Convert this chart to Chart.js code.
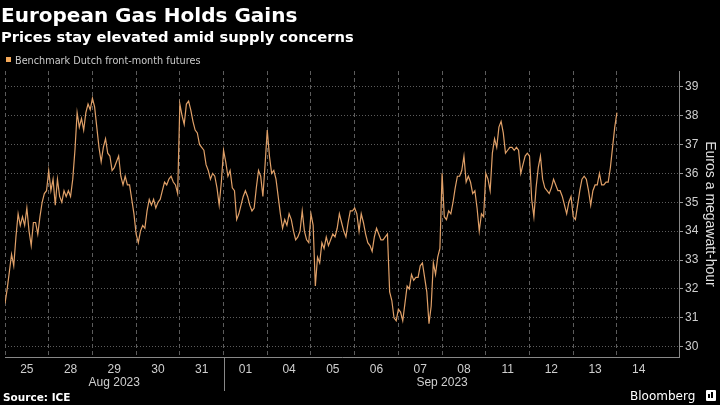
<!DOCTYPE html>
<html>
<head>
<meta charset="utf-8">
<script src="https://cdn.jsdelivr.net/npm/chart.js@4.4.0/dist/chart.umd.min.js"></script>
<style>
  html, body { margin: 0; padding: 0; background: #000; }
  #wrap { position: relative; width: 720px; height: 405px; overflow: hidden; background: #000; font-family: 'DejaVu Sans', 'Liberation Sans', Arial, sans-serif; }
  #chart { position: absolute; left: 0; top: 0; }
  .txt { position: absolute; white-space: nowrap; line-height: 1; }
  #title { left: 1px; top: 5px; font-size: 20px; font-weight: bold; color: #fff; }
  #subtitle { left: 1px; top: 30px; font-size: 14.7px; font-weight: bold; color: #fff; }
  #legend { left: 15px; top: 56px; font-size: 9.7px; color: #ccc; }
  #legendBox { position: absolute; left: 6px; top: 57px; width: 5px; height: 5px; background: #f4a95a; }
  #source { left: 3px; top: 392px; font-size: 10.5px; font-weight: bold; color: #fff; }
  #brand { left: 630px; top: 390px; font-size: 12px; color: #fff; }
  #logo { position: absolute; left: 706px; top: 390px; width: 10px; height: 11px; background: #fff; border-radius: 1px; }
  #logo i { position: absolute; background: #000; width: 2px; bottom: 3px; }
</style>
</head>
<body>
<div id="wrap">
  <canvas id="chart" width="720" height="405"></canvas>
  <div id="title" class="txt">European Gas Holds Gains</div>
  <div id="subtitle" class="txt">Prices stay elevated amid supply concerns</div>
  <div id="legendBox"></div>
  <div id="legend" class="txt">Benchmark Dutch front-month futures</div>
  <div id="source" class="txt">Source: ICE</div>
  <div id="brand" class="txt">Bloomberg</div>
  <div id="logo"><i style="left:2px;height:4px"></i><i style="left:5px;height:6px"></i></div>
</div>
<script>
// Data
const dayLabels = ['25', '28', '29', '30', '31', '01', '04', '05', '06', '07', '08', '11', '12', '13', '14'];
const monthLabels = ['Aug 2023', 'Sep 2023'];
const monthStart = [0, 5];   // trading-day index where each month starts
const monthEnd = [5, 15];
const yTicks = [30, 31, 32, 33, 34, 35, 36, 37, 38, 39];
const PTS_PER_DAY = 20;
const seriesName = 'Benchmark Dutch front-month futures';

// Benchmark Dutch front-month futures, EUR/MWh, 20 readings per trading day
const prices = [
  // Aug 25
  31.5, 32.0, 32.6, 33.2, 32.8, 33.8, 34.6, 34.2, 34.5, 34.2, 34.8, 34.0, 33.5, 34.3, 34.3, 33.9, 34.5, 35.0, 35.3, 35.4,
  // Aug 28
  36.1, 35.4, 35.8, 34.9, 35.8, 35.2, 35.0, 35.4, 35.2, 35.4, 35.2, 35.8, 36.8, 38.1, 37.6, 37.9, 37.5, 38.1, 38.4, 38.2,
  // Aug 29
  38.6, 38.3, 37.6, 36.9, 36.4, 36.9, 37.2, 36.7, 36.6, 36.1, 36.2, 36.4, 36.6, 35.9, 35.6, 35.9, 35.6, 35.6, 35.1, 34.6,
  // Aug 30
  33.9, 33.6, 34.0, 34.2, 34.1, 34.7, 35.1, 34.9, 35.1, 34.8, 35.0, 35.1, 35.4, 35.7, 35.6, 35.8, 35.9, 35.7, 35.6, 35.3,
  // Aug 31
  38.4, 38.0, 37.7, 38.4, 38.5, 38.2, 37.8, 37.5, 37.4, 37.0, 36.9, 36.8, 36.3, 36.1, 35.8, 36.0, 35.9, 35.5, 34.9, 35.7,
  // Sep 01
  36.8, 36.4, 35.9, 36.1, 35.5, 35.4, 34.4, 34.6, 34.9, 35.2, 35.4, 35.2, 34.9, 34.7, 34.8, 35.5, 36.1, 35.9, 35.2, 36.3,
  // Sep 04
  37.5, 36.6, 36.0, 36.1, 35.8, 35.2, 34.6, 34.1, 34.4, 34.2, 34.6, 34.4, 34.0, 33.7, 33.8, 34.0, 34.7, 34.0, 33.7, 33.6,
  // Sep 05
  34.6, 34.2, 32.1, 33.1, 32.9, 33.6, 33.4, 33.8, 33.5, 33.7, 33.9, 33.8, 34.1, 34.6, 34.3, 34.0, 33.8, 34.3, 34.7, 34.7,
  // Sep 06
  34.8, 34.6, 34.0, 34.6, 34.3, 33.9, 33.6, 33.5, 33.3, 33.8, 34.1, 33.9, 33.7, 33.7, 33.8, 33.9, 31.9, 31.6, 31.0, 30.9,
  // Sep 07
  31.3, 31.2, 30.9, 31.5, 32.1, 32.0, 32.5, 32.3, 32.4, 32.4, 32.8, 32.9, 32.4, 31.9, 30.8, 31.4, 32.9, 32.5, 33.1, 33.4,
  // Sep 08
  36.0, 34.5, 34.4, 34.7, 34.6, 35.0, 35.5, 35.9, 35.9, 36.1, 36.6, 35.7, 35.9, 35.7, 35.3, 35.4, 34.8, 34.0, 34.6, 34.5,
  // Sep 11
  36.0, 35.8, 35.4, 36.7, 37.2, 36.9, 37.6, 37.8, 37.4, 36.7, 36.8, 36.9, 36.9, 36.8, 36.9, 36.8, 36.0, 36.3, 36.6, 36.7,
  // Sep 12
  36.6, 35.1, 34.5, 35.5, 36.2, 36.6, 35.8, 35.5, 35.4, 35.3, 35.5, 35.8, 35.6, 35.4, 35.4, 35.2, 34.9, 34.6, 35.0, 35.2,
  // Sep 13
  34.5, 34.4, 34.9, 35.4, 35.8, 35.9, 35.8, 35.4, 34.9, 35.4, 35.6, 35.6, 36.0, 35.6, 35.6, 35.7, 35.7, 36.2, 36.9, 37.6,
  38.1
];

const GRID = '#5c5c5c';
const LABEL = '#cfcfcf';
const tickFont = { family: "'Liberation Sans Narrow', 'Liberation Sans', Arial, sans-serif", size: 12 };

// Month labels under the day labels + separator between months
const monthPlugin = {
  id: 'months',
  afterDraw(chart) {
    const { ctx, chartArea } = chart;
    const x = chart.scales.x;
    ctx.save();
    ctx.fillStyle = LABEL;
    ctx.font = "12px 'Liberation Sans Narrow', 'Liberation Sans', Arial, sans-serif";
    ctx.textAlign = 'center';
    ctx.textBaseline = 'middle';
    monthLabels.forEach((m, i) => {
      const a = x.getPixelForValue(monthStart[i]);
      const b = x.getPixelForValue(monthEnd[i]);
      ctx.fillText(m, (a + b) / 2, chartArea.bottom + 26);
    });
    const sx = Math.round(x.getPixelForValue(monthStart[1])) + 0.5;
    ctx.strokeStyle = '#888';
    ctx.lineWidth = 1;
    ctx.beginPath();
    ctx.moveTo(sx, chartArea.bottom);
    ctx.lineTo(sx, chartArea.bottom + 34);
    ctx.stroke();
    ctx.restore();
  }
};

new Chart(document.getElementById('chart'), {
  type: 'line',
  data: {
    datasets: [{
      label: seriesName,
      data: prices.map((v, i) => ({ x: i / PTS_PER_DAY, y: v })),
      borderColor: '#e0a068',
      borderWidth: 1.2,
      pointRadius: 0,
      tension: 0,
      fill: false
    }]
  },
  options: {
    responsive: false,
    animation: false,
    devicePixelRatio: 1,
    layout: { padding: { top: 71, left: 0, right: 0, bottom: 0 } },
    plugins: { legend: { display: false }, tooltip: { enabled: false } },
    scales: {
      x: {
        type: 'linear',
        min: 0,
        max: 15.42,
        afterBuildTicks: (scale) => {
          const t = [];
          dayLabels.forEach((d, i) => { t.push({ value: i }); t.push({ value: i + 0.5 }); });
          scale.ticks = t;
        },
        afterFit: (scale) => { scale.height = 48; },
        grid: {
          color: (ctx) => (ctx.tick && Number.isInteger(ctx.tick.value)) ? GRID : 'rgba(0,0,0,0)',
          drawTicks: false
        },
        border: { display: true, color: '#888', width: 1, dash: [4, 3] },
        ticks: {
          autoSkip: false,
          maxRotation: 0,
          color: LABEL,
          font: tickFont,
          padding: 5,
          callback: (v) => Number.isInteger(v) ? '' : dayLabels[Math.floor(v)]
        }
      },
      y: {
        position: 'right',
        min: 29.644,
        max: 39.543,
        afterBuildTicks: (scale) => { scale.ticks = yTicks.map(v => ({ value: v })); },
        afterFit: (scale) => { scale.width = 41; },
        grid: { color: GRID, drawTicks: true, tickLength: 4, tickColor: '#999' },
        border: { display: true, color: '#888', width: 1, dash: [1, 2] },
        ticks: { color: LABEL, font: tickFont, padding: 2 },
        title: {
          display: true,
          text: 'Euros a megawatt-hour',
          color: '#e0e0e0',
          font: { family: "'Liberation Sans', Arial, sans-serif", size: 14 },
          padding: { top: 2, bottom: 0 }
        }
      }
    }
  },
  plugins: [monthPlugin]
});
</script>
</body>
</html>
